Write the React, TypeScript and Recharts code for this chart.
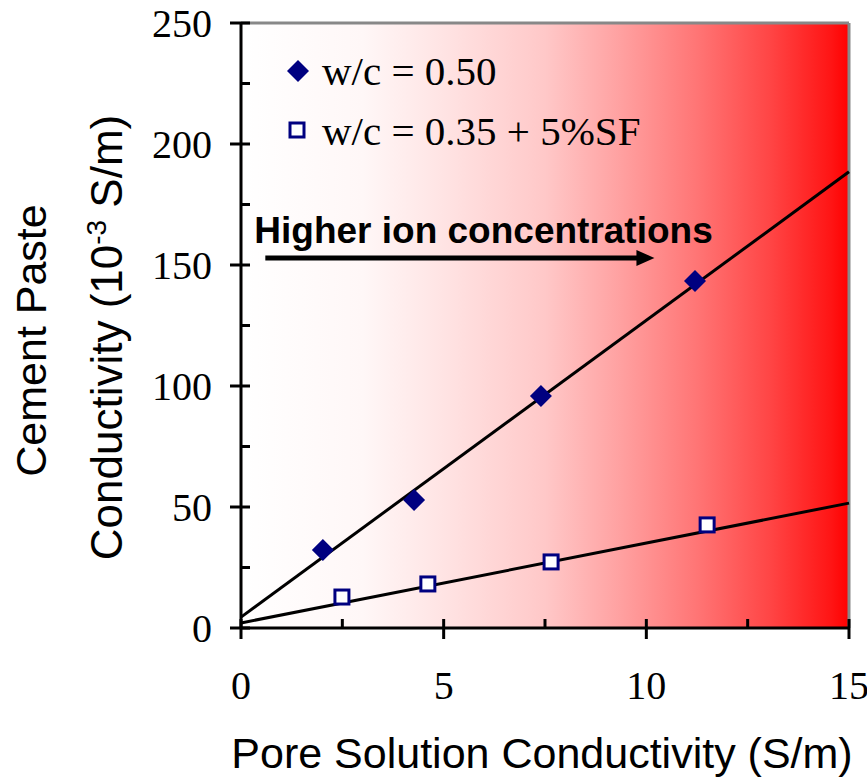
import React from 'react';
import { ScatterChart, Scatter, XAxis, YAxis, ReferenceLine, ReferenceArea, Legend, Label } from 'recharts';

const seriesA = [
  { x: 2.02, y: 32.2 },
  { x: 4.27, y: 52.9 },
  { x: 7.4, y: 95.9 },
  { x: 11.2, y: 143.4 },
];
const seriesB = [
  { x: 2.49, y: 12.8 },
  { x: 4.61, y: 18.2 },
  { x: 7.65, y: 27.3 },
  { x: 11.5, y: 42.6 },
];
const trendA = [{ x: 0, y: 4.5 }, { x: 15, y: 188.5 }];
const trendB = [{ x: 0, y: 2.1 }, { x: 15, y: 51.6 }];
const arrowSeg = [{ x: 0.6, y: 152.9 }, { x: 10.2, y: 152.9 }];
const xTicks = [0, 2.5, 5, 7.5, 10, 12.5, 15];
const yTicks = [0, 25, 50, 75, 100, 125, 150, 175, 200, 225, 250];
const seriesNames = ['w/c = 0.50', 'w/c = 0.35 + 5%SF'];
const arrowText = 'Higher ion concentrations';
const xTitle = 'Pore Solution Conductivity (S/m)';

const NAVY = '#000080';
const SERIF = '"Liberation Serif", "Times New Roman", serif';
const SANS = '"Liberation Sans", Arial, sans-serif';

const XTick = (p: any) => {
  const v = p.payload.value;
  const major = v % 5 === 0;
  return (
    <g>
      <line x1={p.x} x2={p.x} y1={p.y - 9} y2={major ? p.y + 11 : p.y} stroke="#000" strokeWidth={3} />
      {major && (
        <text x={p.x} y={p.y + 71} textAnchor="middle" fontFamily={SERIF} fontSize={40} fill="#000">
          {v}
        </text>
      )}
    </g>
  );
};

const YTick = (p: any) => {
  const v = p.payload.value;
  const major = v % 50 === 0;
  return (
    <g>
      <line x1={major ? p.x - 11 : p.x} x2={p.x + 9} y1={p.y} y2={p.y} stroke="#000" strokeWidth={3} />
      {major && (
        <text x={p.x - 29} y={p.y + 14} textAnchor="end" fontFamily={SERIF} fontSize={40} fill="#000">
          {v}
        </text>
      )}
    </g>
  );
};

const Diamond = (p: any) => (
  <polygon
    points={`${p.cx},${p.cy - 11} ${p.cx + 11},${p.cy} ${p.cx},${p.cy + 11} ${p.cx - 11},${p.cy}`}
    fill={NAVY}
  />
);
const Square = (p: any) => (
  <rect x={p.cx - 7} y={p.cy - 7} width={14} height={14} fill="#fff" stroke={NAVY} strokeWidth={3} />
);

const ArrowShape = (p: any) => {
  const { x1, y1, x2 } = p;
  return (
    <g>
      <line x1={x1} y1={y1} x2={x2 - 16} y2={y1} stroke="#000" strokeWidth={5} />
      <polygon points={`${x2},${y1} ${x2 - 18},${y1 - 8} ${x2 - 18},${y1 + 8}`} fill="#000" />
      <text x={x1 - 11} y={y1 - 15} fontFamily={SANS} fontWeight="bold" fontSize={37} fill="#000">
        {arrowText}
      </text>
    </g>
  );
};

const LegendContent = () => (
  <svg width={420} height={130} style={{ overflow: 'visible', display: 'block' }}>
    <polygon points="13,20 24,31 13,42 2,31" fill={NAVY} />
    <text x={37} y={45} fontFamily={SERIF} fontSize={41} fill="#000">{seriesNames[0]}</text>
    <rect x={5} y={83} width={14} height={14} fill="#fff" stroke={NAVY} strokeWidth={3} />
    <text x={37} y={105} fontFamily={SERIF} fontSize={41} fill="#000">{seriesNames[1]}</text>
  </svg>
);

const YLabel = (props: any) => {
  const vb = props.viewBox;
  const cy = vb.y + vb.height / 2;
  return (
    <g>
      <text transform={`translate(46, ${cy + 15}) rotate(-90)`} textAnchor="middle" fontFamily={SANS} fontSize={43} fill="#000">
        Cement Paste
      </text>
      <text transform={`translate(122, ${cy + 12}) rotate(-90)`} textAnchor="middle" fontFamily={SANS} fontSize={44} fill="#000">
        Conductivity (10<tspan dy={-16} fontSize={28}>-3</tspan><tspan dy={16}> S/m)</tspan>
      </text>
    </g>
  );
};

const XLabel = (props: any) => {
  const vb = props.viewBox;
  return (
    <text x={vb.x + vb.width / 2 - 3} y={vb.y + vb.height - 11} textAnchor="middle" fontFamily={SANS} fontSize={43} fill="#000">
      {xTitle}
    </text>
  );
};

export default function App() {
  return (
    <div style={{ position: 'absolute', left: 0, top: 0, width: 867, height: 779, background: '#fff' }}>
      <svg width={0} height={0} style={{ position: 'absolute' }}>
        <defs>
          <linearGradient id="bgGrad" x1="0" y1="0" x2="1" y2="0">
            <stop offset="0" stopColor="#ffffff" />
            <stop offset="0.2" stopColor="#fff7f7" />
            <stop offset="0.33" stopColor="#ffe4e4" />
            <stop offset="0.5" stopColor="#ffc8c8" />
            <stop offset="0.62" stopColor="#ffa2a2" />
            <stop offset="0.75" stopColor="#ff7575" />
            <stop offset="0.87" stopColor="#ff4545" />
            <stop offset="0.97" stopColor="#ff1515" />
            <stop offset="1" stopColor="#ff0000" />
          </linearGradient>
        </defs>
      </svg>
      <ScatterChart width={867} height={779} margin={{ top: 23, right: 18, bottom: 0, left: 0 }}>
        <ReferenceArea x1={0} x2={15} y1={0} y2={250} fill="url(#bgGrad)" fillOpacity={1} stroke="none" ifOverflow="visible" />
        <XAxis
          type="number"
          dataKey="x"
          domain={[0, 15]}
          ticks={xTicks}
          interval={0}
          height={151}
          tickSize={0}
          tickMargin={0}
          tickLine={false}
          tick={<XTick />}
          axisLine={{ stroke: '#000', strokeWidth: 3 }}
          allowDataOverflow
        >
          <Label content={<XLabel />} />
        </XAxis>
        <YAxis
          type="number"
          dataKey="y"
          domain={[0, 250]}
          ticks={yTicks}
          interval={0}
          width={241}
          tickSize={0}
          tickMargin={0}
          tickLine={false}
          tick={<YTick />}
          axisLine={{ stroke: '#000', strokeWidth: 3 }}
          allowDataOverflow
        >
          <Label content={<YLabel />} />
        </YAxis>
        <ReferenceLine y={250} stroke="#888" strokeWidth={3} ifOverflow="visible" />
        <ReferenceLine x={15} stroke="#888" strokeWidth={3} ifOverflow="visible" />
        <ReferenceLine segment={trendA} stroke="#000" strokeWidth={3} ifOverflow="visible" />
        <ReferenceLine segment={trendB} stroke="#000" strokeWidth={3} ifOverflow="visible" />
        <ReferenceLine segment={arrowSeg} ifOverflow="visible" shape={(p: any) => <ArrowShape {...p} />} />
        <Scatter name={seriesNames[0]} data={seriesA} shape={<Diamond />} isAnimationActive={false} />
        <Scatter name={seriesNames[1]} data={seriesB} shape={<Square />} isAnimationActive={false} />
        <Legend
          layout="vertical"
          align="center"
          verticalAlign="middle"
          content={<LegendContent />}
          wrapperStyle={{ position: 'absolute', left: 285, top: 40, width: 420, height: 130 }}
        />
      </ScatterChart>
    </div>
  );
}
